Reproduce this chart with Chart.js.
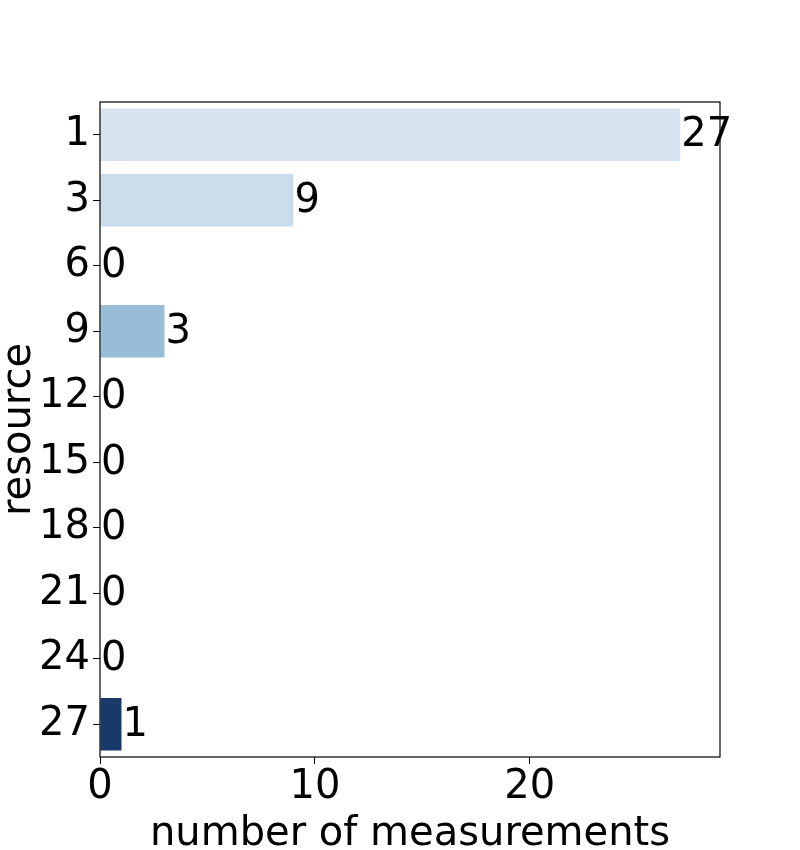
<!DOCTYPE html>
<html>
<head>
<meta charset="utf-8">
<script src="https://cdn.jsdelivr.net/npm/chart.js@4/dist/chart.umd.min.js"></script>
<style>
  html, body { margin: 0; padding: 0; background: #fff; }
  #wrap { width: 800px; height: 850px; }
</style>
</head>
<body>
<div id="wrap"><canvas id="resourceChart" width="800" height="850"></canvas></div>
<script>
// 데이터
const resources = ['1', '3', '6', '9', '12', '15', '18', '21', '24', '27'];
const measurements = [27, 9, 0, 3, 0, 0, 0, 0, 0, 1];
const barColors = ['#d7e3ef', '#cbdcec', '#b3cfe5', '#97bdd7', '#74a9d0', '#5592c4', '#3a78b4', '#2460a1', '#1a4a86', '#173a6b'];
const xTicks = [0, 10, 20];

const FONT = 'DejaVu Sans';
const SIZE = 40;

// 막대 끝에 값 표시
const valueLabels = {
  id: 'valueLabels',
  afterDatasetsDraw(chart) {
    const ctx = chart.ctx;
    const meta = chart.getDatasetMeta(0);
    ctx.save();
    ctx.font = SIZE + 'px "' + FONT + '"';
    ctx.fillStyle = '#000';
    ctx.textAlign = 'left';
    ctx.textBaseline = 'middle';
    meta.data.forEach(function(bar, i) {
      ctx.fillText(String(measurements[i]), bar.x + 1, bar.y + 1);
    });
    ctx.restore();
  }
};

// 플롯 영역 테두리
const frame = {
  id: 'frame',
  afterDraw(chart) {
    const a = chart.chartArea;
    const ctx = chart.ctx;
    ctx.save();
    ctx.strokeStyle = '#000';
    ctx.lineWidth = 1.2;
    ctx.strokeRect(a.left, a.top, a.right - a.left, a.bottom - a.top);
    ctx.restore();
  }
};

new Chart(document.getElementById('resourceChart'), {
  type: 'bar',
  data: {
    labels: resources,
    datasets: [{
      data: measurements,
      backgroundColor: barColors,
      borderWidth: 0,
      barPercentage: 1.0,
      categoryPercentage: 0.8
    }]
  },
  options: {
    indexAxis: 'y',
    responsive: false,
    animation: false,
    layout: { padding: { top: 102, right: 80, left: 0, bottom: 0 } },
    plugins: {
      legend: { display: false },
      tooltip: { enabled: false }
    },
    scales: {
      x: {
        min: 0,
        max: 28.85,
        afterBuildTicks: function(axis) {
          axis.ticks = xTicks.map(function(v) { return { value: v }; });
        },
        afterFit: function(axis) { axis.height = 93; },
        grid: { drawOnChartArea: false, tickLength: 7, color: '#000' },
        border: { display: false },
        ticks: { color: '#000', font: { family: FONT, size: SIZE }, padding: 0, maxRotation: 0 },
        title: {
          display: true,
          text: 'number of measurements',
          color: '#000',
          font: { family: FONT, size: SIZE },
          padding: { top: 0, bottom: -9 }
        }
      },
      y: {
        offset: true,
        afterFit: function(axis) { axis.width = 100; },
        grid: { drawOnChartArea: false, offset: false, tickLength: 7, color: '#000' },
        border: { display: false },
        ticks: { color: '#000', font: { family: FONT, size: SIZE }, padding: 3 },
        title: {
          display: true,
          text: 'resource',
          color: '#000',
          font: { family: FONT, size: SIZE },
          padding: { top: -4, bottom: 0 }
        }
      }
    }
  },
  plugins: [valueLabels, frame]
});
</script>
</body>
</html>
